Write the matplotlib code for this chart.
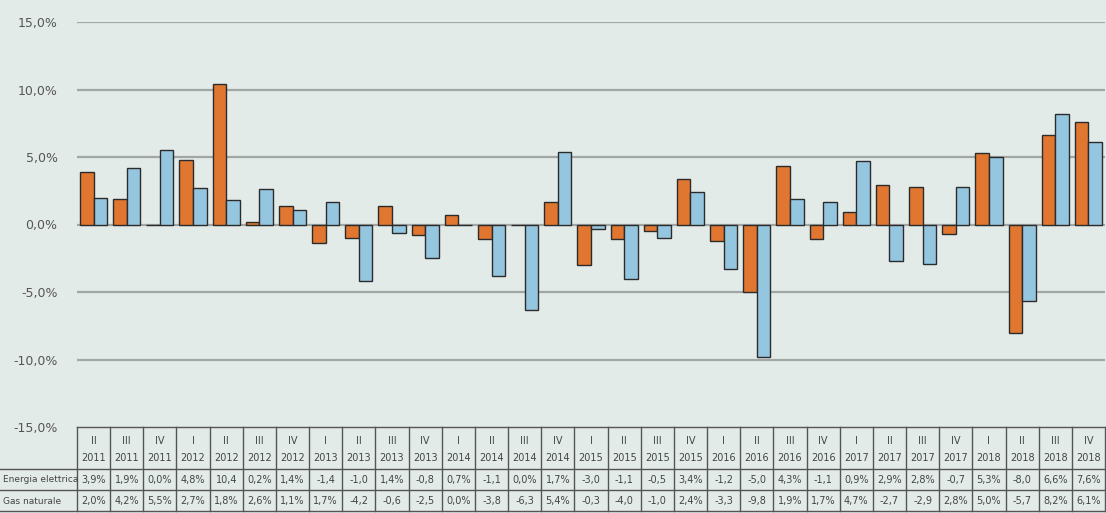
import matplotlib
matplotlib.use("Agg")
from matplotlib import pyplot as plt
from matplotlib import transforms

quarters = ["II", "III", "IV", "I", "II", "III", "IV", "I", "II", "III", "IV",
            "I", "II", "III", "IV", "I", "II", "III", "IV", "I", "II", "III", "IV",
            "I", "II", "III", "IV", "I", "II", "III", "IV"]
years = ["2011", "2011", "2011", "2012", "2012", "2012", "2012", "2013", "2013", "2013", "2013",
         "2014", "2014", "2014", "2014", "2015", "2015", "2015", "2015", "2016", "2016", "2016", "2016",
         "2017", "2017", "2017", "2017", "2018", "2018", "2018", "2018"]

energia_elettrica = [3.9, 1.9, 0.0, 4.8, 10.4, 0.2, 1.4, -1.4, -1.0, 1.4, -0.8,
                     0.7, -1.1, 0.0, 1.7, -3.0, -1.1, -0.5, 3.4, -1.2, -5.0, 4.3, -1.1,
                     0.9, 2.9, 2.8, -0.7, 5.3, -8.0, 6.6, 7.6]
gas_naturale = [2.0, 4.2, 5.5, 2.7, 1.8, 2.6, 1.1, 1.7, -4.2, -0.6, -2.5,
                0.0, -3.8, -6.3, 5.4, -0.3, -4.0, -1.0, 2.4, -3.3, -9.8, 1.9, 1.7,
                4.7, -2.7, -2.9, 2.8, 5.0, -5.7, 8.2, 6.1]

row_labels = ["Energia elettrica", "Gas naturale"]
yticks = [-15, -10, -5, 0, 5, 10, 15]

bg = "#e3ebe8"
orange = "#e0762f"
blue = "#95c6e0"
W, H = 1106, 513

fig = plt.figure(figsize=(W / 100, H / 100), dpi=100, facecolor=bg)
n = len(quarters)
left = 77
ax = fig.add_axes([left / W, 1 - 427 / H, (W - left - 1) / W, 405 / H])
ax.set_facecolor(bg)

x = list(range(n))
w = 0.41
ax.bar([i - w / 2 for i in x], energia_elettrica, w, color=orange, edgecolor="#2b2b2b", linewidth=1, zorder=3)
ax.bar([i + w / 2 for i in x], gas_naturale, w, color=blue, edgecolor="#2b2b2b", linewidth=1, zorder=3)

ax.set_xlim(-0.5, n - 0.5)
ax.set_ylim(-15, 15)
ax.set_yticks(yticks)
ax.set_yticklabels([f"{t:.1f}%".replace(".", ",") for t in yticks], color="#555555", fontsize=9)
ax.tick_params(axis="y", length=0, pad=14)
ax.set_xticks([])
for s in ax.spines.values():
    s.set_visible(False)
for t in yticks[1:]:
    ax.axhline(t, color="#a2a6a4", linewidth=1.6, zorder=1)

# data table under the plot
tr = transforms.blended_transform_factory(ax.transData, fig.transFigure)
fy = lambda px: 1 - px / H
line_kw = dict(color="#555555", linewidth=1, clip_on=False)

top, mid, r1, bot = 427, 469, 490, 511
ax.plot([-0.5, n - 0.5], [fy(top)] * 2, transform=tr, **line_kw)
for yy in (mid, r1, bot):
    fig.add_artist(plt.Line2D([0, 1], [fy(yy)] * 2, transform=fig.transFigure, color="#555555", linewidth=1))
for i in range(n + 1):
    ax.plot([i - 0.5] * 2, [fy(top), fy(bot)], transform=tr, **line_kw)


def fmt(v):
    s = f"{v:.1f}".replace(".", ",")
    return s + "%" if len(s) <= 3 else s


txt = dict(transform=tr, ha="center", va="center", fontsize=7, color="#444444")
for i in range(n):
    ax.text(i, fy(441), quarters[i], **txt)
    ax.text(i, fy(458), years[i], **txt)
    ax.text(i, fy(480), fmt(energia_elettrica[i]), **txt)
    ax.text(i, fy(501), fmt(gas_naturale[i]), **txt)

fig.text(3 / W, fy(480), row_labels[0], ha="left", va="center", fontsize=6.5, color="#444444")
fig.text(3 / W, fy(501), row_labels[1], ha="left", va="center", fontsize=6.5, color="#444444")

fig.savefig("out.png", dpi=100, facecolor=bg)
